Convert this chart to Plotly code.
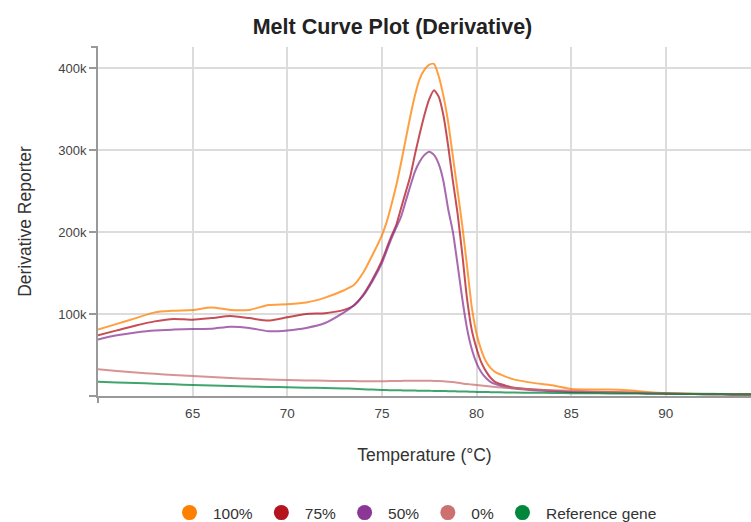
import plotly.graph_objects as go

# Temperature (°C)
temps = [60, 61, 62, 63, 64, 65, 66, 67, 68, 69, 70, 71, 72, 73, 73.5, 74, 74.5,
         75, 75.25, 75.5, 75.75, 76, 76.25, 76.5, 76.75, 77, 77.25, 77.5, 77.75,
         78, 78.25, 78.5, 78.75, 79, 79.25, 79.5, 79.75, 80, 80.25, 80.5, 80.75, 81,
         81.5, 82, 83, 84, 85, 86, 87, 88, 89, 90, 91, 92, 93, 94, 94.5]

# Derivative reporter values, in thousands
s100 = [81, 88, 95, 102, 104, 105, 108, 105, 105, 111, 112, 114, 120, 129, 135, 150, 172,
        196, 212, 233, 256, 283, 312, 341, 367, 387, 398, 404, 405,
        390, 366, 334, 292, 250, 207, 158, 108, 76, 56, 42, 34, 29,
        24, 20, 16, 13, 8.5, 8, 8, 7, 5, 3.5, 3, 2.5, 2, 1.8, 1.6]
s75 = [74, 80, 86, 91, 94, 93, 95, 97.5, 95, 92, 96, 100, 101, 105, 110, 123, 142,
       165, 180, 195, 208, 228, 248, 268, 295, 320, 343, 362, 373,
       365, 342, 305, 262, 222, 172, 118, 80, 58, 41, 30, 22, 17,
       13, 10, 8, 6.5, 5, 4.5, 4.5, 4, 3.5, 3, 2.5, 2.2, 2, 1.8, 1.7]
s50 = [69, 74, 77.5, 80, 81, 81.7, 82, 84.5, 83, 79, 80, 83, 89, 102, 110, 122, 140,
       162, 177, 192, 205, 218, 237, 256, 274, 286, 294, 298, 294,
       283, 262, 228, 200, 160, 118, 82, 57, 40, 29, 22, 17, 14.5,
       11, 9, 7, 6, 5, 4.5, 4.2, 3.8, 3.3, 2.8, 2.5, 2.2, 2, 1.8, 1.7]
s0 = [32.5, 30.5, 28.8, 27, 25.6, 24.4, 23.2, 22, 21, 20.2, 19.5, 19, 18.6, 18.3, 18.2, 18, 18,
      18, 18.1, 18.2, 18.3, 18.4, 18.5, 18.5, 18.6, 18.6, 18.6, 18.5, 18.4,
      18.3, 18, 17.5, 17, 16.2, 15.3, 14.5, 14, 13.4, 12.8, 12.2, 11.6, 11,
      10.2, 9.3, 8, 7, 6.5, 5.5, 5, 4.5, 4, 3.5, 3, 2.8, 2.5, 2.2, 2.2]
sref = [17.5, 16.6, 15.8, 15, 14.2, 13.4, 12.8, 12.2, 11.6, 11.1, 10.6, 10.2, 9.8, 9.2, 8.8, 8.3, 7.8,
        7.3, 7.2, 7.1, 7.0, 6.9, 6.8, 6.7, 6.6, 6.5, 6.4, 6.3, 6.2,
        6.1, 6.0, 5.9, 5.8, 5.6, 5.5, 5.4, 5.2, 5.0, 4.9, 4.8, 4.7, 4.6,
        4.4, 4.2, 4, 3.8, 3.5, 3.3, 3.2, 3, 2.8, 2.6, 2.5, 2.4, 2.3, 2.2, 2.2]

series_names = ["100%", "75%", "50%", "0%", "Reference gene"]
series_values = [s100, s75, s50, s0, sref]
colors = ["#FF8000", "#B3141E", "#8A3795", "#CC7070", "#00873C"]

x_tick_vals = [65, 70, 75, 80, 85, 90]
y_tick_vals = [0, 100, 200, 300, 400]
y_tick_text = ["", "100k", "200k", "300k", "400k"]

W, H = 751, 522
L, R, T, B = 98, 0, 47, 126

fig = go.Figure()
for name, vals, col in zip(series_names, series_values, colors):
    fig.add_trace(go.Scatter(
        x=temps, y=vals, mode="lines", name=name, legendgroup=name,
        line=dict(color=col, width=2, shape="spline", smoothing=0.6),
        opacity=0.75, showlegend=False, hoverinfo="x+y+name"))
for name, col in zip(series_names, colors):
    fig.add_trace(go.Scatter(
        x=[None], y=[None], mode="markers", name=name, legendgroup=name,
        marker=dict(color=col, size=15, symbol="circle"), showlegend=True))

axis_col = "#999999"
grid_col = "#DCDCDC"
plot_h = H - T - B
tick_px = 7

fig.update_layout(
    width=W, height=H,
    margin=dict(l=L, r=R, t=T, b=B, pad=0, autoexpand=False),
    paper_bgcolor="white", plot_bgcolor="white",
    font=dict(family="Liberation Sans, Arial, sans-serif", color="#333333"),
    title=dict(text="<b>Melt Curve Plot (Derivative)</b>", xref="container", x=392.5 / W,
               xanchor="center", yref="container", y=1 - 26 / H, yanchor="middle",
               font=dict(size=21.5, color="#222222")),
    xaxis=dict(range=[60, 94.5], tickvals=x_tick_vals, showgrid=True, gridcolor=grid_col,
               gridwidth=1.5, showline=True, linecolor=axis_col, linewidth=2,
               ticks="outside", ticklen=4, tickcolor="rgba(0,0,0,0)", automargin=False,
               tickfont=dict(size=13.5, color="#444444"), zeroline=False,
               title=dict(text="Temperature (°C)", font=dict(size=17.5, color="#333333"), standoff=29)),
    yaxis=dict(range=[0, 425.6], tickvals=y_tick_vals, ticktext=y_tick_text, showgrid=True,
               gridcolor=grid_col, gridwidth=1.5, showline=True, linecolor=axis_col, linewidth=2,
               ticks="outside", ticklen=tick_px, tickcolor=axis_col, tickwidth=1.5, automargin=False,
               tickfont=dict(size=13, color="#444444"), zeroline=False,
               title=dict(text="Derivative Reporter", font=dict(size=17.5, color="#333333"), standoff=22)),
    legend=dict(orientation="h", xref="container", x=414 / W, xanchor="center",
                yref="container", y=1 - 513 / H, yanchor="middle",
                font=dict(size=15.5, color="#333333"), itemwidth=37,
                itemclick=False, bgcolor="rgba(0,0,0,0)"),
    shapes=[
        dict(type="line", xref="paper", yref="paper", x0=-tick_px / (W - L - R), x1=0, y0=1, y1=1,
             line=dict(color=axis_col, width=2)),
        dict(type="line", xref="paper", yref="paper", x0=0, x1=0, y0=0, y1=-tick_px / plot_h,
             line=dict(color=axis_col, width=2)),
    ],
)

fig.write_html("out.html", config={"displayModeBar": False},
               post_script="document.body.style.margin='0px';")
